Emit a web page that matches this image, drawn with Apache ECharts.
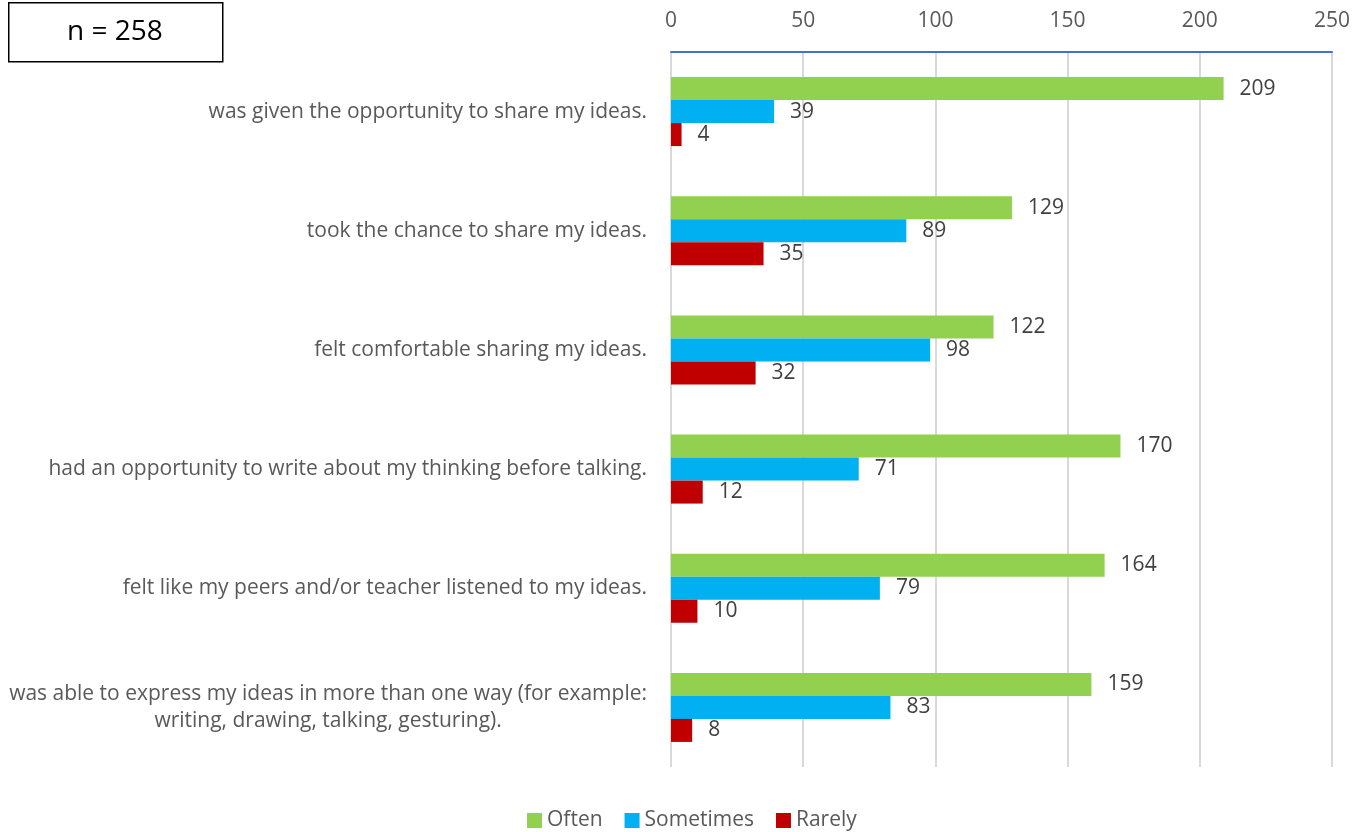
<!DOCTYPE html>
<html>
<head>
<meta charset="utf-8">
<script src="https://cdn.jsdelivr.net/npm/echarts@6/dist/echarts.min.js"></script>
<style>html,body{margin:0;padding:0;background:#fff}#c{width:1365px;height:832px}</style>
</head>
<body>
<div id="c"></div>
<script>
const categories = [
  "was given the opportunity to share my ideas.",
  "took the chance to share my ideas.",
  "felt comfortable sharing my ideas.",
  "had an opportunity to write about my thinking before talking.",
  "felt like my peers and/or teacher listened to my ideas.",
  "was able to express my ideas in more than one way (for example:\nwriting, drawing, talking, gesturing)."
];
const often = [209, 129, 122, 170, 164, 159];
const sometimes = [39, 89, 98, 71, 79, 83];
const rarely = [4, 35, 32, 12, 10, 8];
const xTicks = { min: 0, max: 250, interval: 50 };
const sampleLabel = "n = 258";

const FONT = "'Open Sans', sans-serif";
const chart = echarts.init(document.getElementById('c'));
const labelStyle = { show: true, position: 'right', distance: 16, color: '#404040', fontSize: 21, fontFamily: FONT };
chart.setOption({
  animation: false,
  textStyle: { fontFamily: FONT },
  grid: { left: 671, right: 33, top: 52, bottom: 65, containLabel: false },
  legend: {
    top: 805, left: 522,
    itemWidth: 15, itemHeight: 15, itemGap: 22,
    icon: 'rect',
    textStyle: { color: '#595959', fontSize: 21, fontFamily: FONT },
    data: ['Often', 'Sometimes', 'Rarely']
  },
  xAxis: {
    type: 'value', position: 'top',
    min: xTicks.min, max: xTicks.max, interval: xTicks.interval,
    axisLine: { show: true, lineStyle: { color: '#4472C4', width: 2 } },
    axisTick: { show: false },
    axisLabel: { color: '#595959', fontSize: 21, fontFamily: FONT, margin: 20 },
    splitLine: { show: true, lineStyle: { color: '#D9D9D9', width: 2 } }
  },
  yAxis: {
    type: 'category', inverse: true, data: categories,
    axisLine: { show: false }, axisTick: { show: false },
    axisLabel: {
      color: '#595959', fontSize: 21, fontFamily: FONT, margin: 24, lineHeight: 27,
      formatter: v => '{c|' + v.split('\n').join('}\n{c|') + '}',
      rich: { c: { align: 'center', color: '#595959', fontSize: 21, fontFamily: FONT, lineHeight: 27 } }
    }
  },
  series: [
    { name: 'Often', type: 'bar', data: often, barWidth: 23, barGap: '0%', itemStyle: { color: '#92D050' }, label: labelStyle },
    { name: 'Sometimes', type: 'bar', data: sometimes, barWidth: 23, barGap: '0%', itemStyle: { color: '#00B0F0' }, label: labelStyle },
    { name: 'Rarely', type: 'bar', data: rarely, barWidth: 23, barGap: '0%', itemStyle: { color: '#C00000' }, label: labelStyle }
  ],
  graphic: [
    { type: 'rect', left: 8, top: 2, shape: { width: 214, height: 59 }, style: { fill: '#fff', stroke: '#000', lineWidth: 1.5 } },
    { type: 'text', x: 115, y: 32, style: { text: sampleLabel, fill: '#000', font: "28px 'Open Sans', sans-serif", align: 'center', verticalAlign: 'middle' } }
  ]
});
</script>
</body>
</html>
